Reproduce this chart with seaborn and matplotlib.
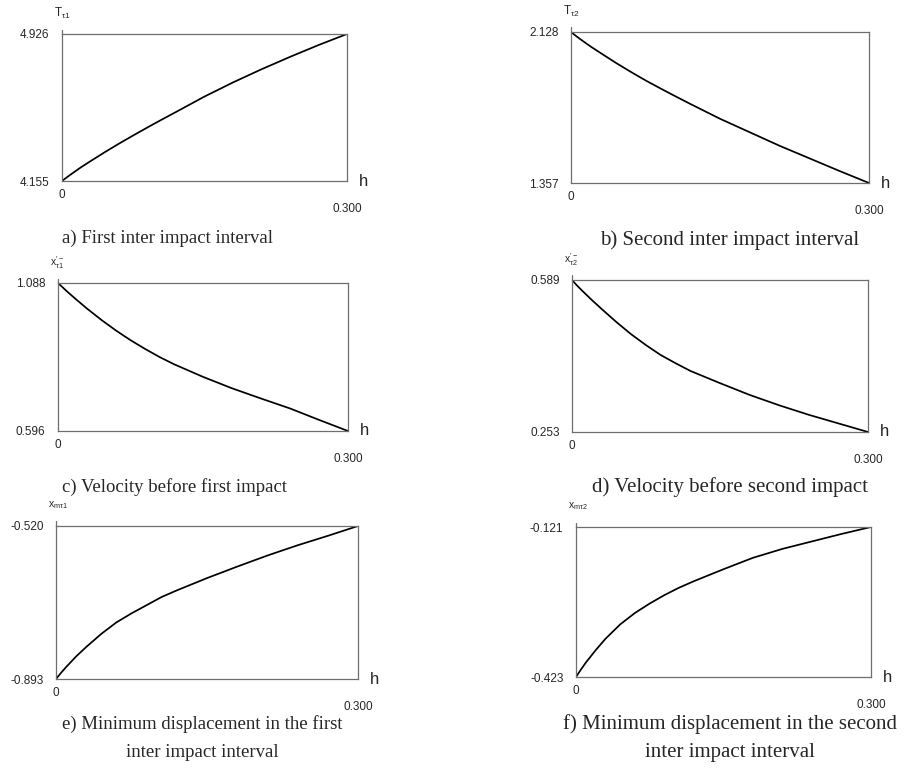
import matplotlib
matplotlib.use("Agg")
import matplotlib.pyplot as plt
import pandas as pd
import seaborn as sns

sns.set_theme(style="white")
plt.rcParams['font.family'] = ['Liberation Sans', 'DejaVu Sans']
plt.rcParams['mathtext.fontset'] = 'custom'
plt.rcParams['mathtext.rm'] = 'Liberation Sans'
plt.rcParams['mathtext.it'] = 'Liberation Sans'

# ---- data ----
h = [0, 0.005, 0.01, 0.02, 0.03, 0.045, 0.06, 0.075, 0.09, 0.105, 0.12,
     0.15, 0.18, 0.21, 0.24, 0.27, 0.3]
T_tau1 = [4.155, 4.174, 4.192, 4.227, 4.259, 4.306, 4.351, 4.394, 4.436, 4.477,
          4.517, 4.598, 4.672, 4.741, 4.806, 4.868, 4.926]
T_tau2 = [2.128, 2.108, 2.089, 2.053, 2.020, 1.971, 1.925, 1.881, 1.840, 1.800,
          1.761, 1.685, 1.616, 1.547, 1.483, 1.419, 1.357]
v_tau1 = [1.088, 1.073, 1.058, 1.030, 1.003, 0.965, 0.930, 0.898, 0.869, 0.842,
          0.818, 0.776, 0.738, 0.704, 0.671, 0.633, 0.596]
v_tau2 = [0.589, 0.577, 0.566, 0.545, 0.525, 0.496, 0.469, 0.445, 0.423, 0.405,
          0.388, 0.361, 0.335, 0.312, 0.291, 0.272, 0.253]
xm_tau1 = [-0.893, -0.878, -0.864, -0.838, -0.815, -0.783, -0.755, -0.733, -0.713,
           -0.693, -0.677, -0.647, -0.619, -0.592, -0.567, -0.544, -0.520]
xm_tau2 = [-0.423, -0.408, -0.394, -0.369, -0.346, -0.317, -0.294, -0.275, -0.258,
           -0.243, -0.230, -0.206, -0.183, -0.165, -0.150, -0.135, -0.121]

x_tick_labels = ["0", "0.300"]
y_tick_labels = [("4.155", "4.926"), ("1.357", "2.128"), ("0.596", "1.088"),
                 ("0.253", "0.589"), ("-0.893", "-0.520"), ("-0.423", "-0.121")]
y_labels = [r"$\mathrm{T}_{\tau 1}$", r"$\mathrm{T}_{\tau 2}$",
            r"$x^{\prime -}_{\tau 1}$", r"$x^{\prime -}_{\tau 2}$",
            r"$x_{m\tau 1}$", r"$x_{m\tau 2}$"]
captions = ["a) First inter impact interval",
            "b) Second inter impact interval",
            "c) Velocity before first impact",
            "d) Velocity before second impact",
            "e) Minimum displacement in the first\ninter impact interval",
            "f) Minimum displacement in the second\ninter impact interval"]
series = [T_tau1, T_tau2, v_tau1, v_tau2, xm_tau1, xm_tau2]

# ---- layout (pixels: left, top, right, bottom) ----
W, H = 905, 774
boxes = [(62, 34, 347, 181), (571, 32, 869, 183),
         (58, 283, 348, 431), (572, 280, 868, 432),
         (56, 526, 358, 679), (576, 527, 871, 677)]
cap_y = [238, 240, 487, 487, 738, 738]
cap_x = [62, 730, 62, 730, 62, 730]
cap_ha = ["left", "center", "left", "center", "left", "center"]
cap_fs = [13.5, 15, 13.5, 15, 13.5, 15]
cap_ls = [1.8, 1.62, 1.8, 1.62, 1.8, 1.62]

fig = plt.figure(figsize=(W / 100, H / 100), dpi=100)
fig.patch.set_facecolor("white")
spine_col = "#6e6e6e"

for i, (vals, box) in enumerate(zip(series, boxes)):
    l, t, r, b = box
    ax = fig.add_axes([l / W, 1 - b / H, (r - l) / W, (b - t) / H])
    df = pd.DataFrame({"h": h, "v": vals})
    sns.lineplot(data=df, x="h", y="v", ax=ax, color="black", lw=1.25)
    lo, hi = float(y_tick_labels[i][0]), float(y_tick_labels[i][1])
    ax.set_xlim(0, 0.3)
    ax.set_ylim(lo, hi)
    ax.set_xlabel("")
    ax.set_ylabel("")
    ax.set_xticks([])
    ax.set_yticks([lo, hi])
    ax.set_yticklabels(list(y_tick_labels[i]), fontsize=8.5)
    ax.tick_params(axis="y", length=0, pad=9)
    for s in ax.spines.values():
        s.set_color(spine_col)
        s.set_linewidth(0.9)
        s.set_visible(True)
    ax.set_facecolor("white")
    ax.grid(False)
    # small axis tip above top-left corner
    ax.plot([0, 0], [1, 1.03], transform=ax.transAxes, clip_on=False,
            color=spine_col, lw=0.9)
    # x end labels
    ax.annotate(x_tick_labels[0], xy=(0, 0), xycoords="axes fraction",
                xytext=(0, -10), textcoords="offset points",
                ha="center", va="center", fontsize=8.5)
    ax.annotate(x_tick_labels[1], xy=(1, 0), xycoords="axes fraction",
                xytext=(0, -20), textcoords="offset points",
                ha="center", va="center", fontsize=8.5)
    ax.annotate("h", xy=(1, 0), xycoords="axes fraction",
                xytext=(12, 0), textcoords="offset points",
                ha="center", va="center", fontsize=12)
    ax.annotate(y_labels[i], xy=(0, 1), xycoords="axes fraction",
                xytext=(-6, 15), textcoords="offset points",
                ha="left", va="center", fontsize=8.5 if i < 2 else 7.5)
    fig.text(cap_x[i] / W, 1 - cap_y[i] / H, captions[i], ha=cap_ha[i],
             va="center", multialignment="center", linespacing=cap_ls[i],
             fontsize=cap_fs[i], family=["Liberation Serif", "DejaVu Serif"])

fig.savefig("out.png", dpi=100, facecolor="white")
